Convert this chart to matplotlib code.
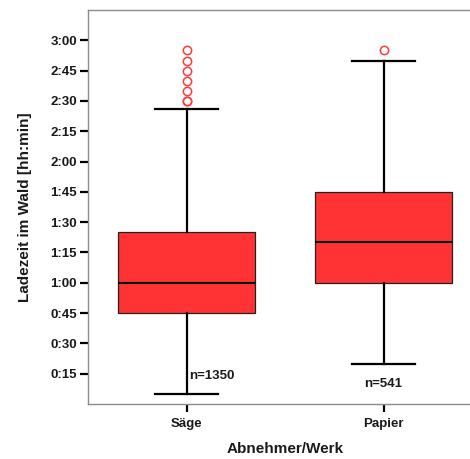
import matplotlib.pyplot as plt

plt.rcParams["font.family"] = ["Liberation Sans", "DejaVu Sans"]
plt.rcParams["font.weight"] = "bold"

# Daten (Minuten)
werke = ["Säge", "Papier"]
n_werte = [1350, 541]
q1 = [45, 60]
median = [60, 80]
q3 = [85, 105]
whisker_unten = [5, 20]
whisker_oben = [146, 170]
ausreisser = [[150, 150, 155, 160, 165, 170, 175], [175]]

yticks = [15, 30, 45, 60, 75, 90, 105, 120, 135, 150, 165, 180]
ytick_labels = ["0:15", "0:30", "0:45", "1:00", "1:15", "1:30",
                "1:45", "2:00", "2:15", "2:30", "2:45", "3:00"]

stats = []
for i, name in enumerate(werke):
    stats.append({
        "label": name,
        "q1": q1[i], "med": median[i], "q3": q3[i],
        "whislo": whisker_unten[i], "whishi": whisker_oben[i],
        "fliers": ausreisser[i],
    })

fig = plt.figure(figsize=(4.70, 4.59), dpi=100)
ax = fig.add_axes([88 / 470, 55 / 459, 394 / 470, 394 / 459])

ax.bxp(
    stats,
    positions=[1, 2],
    widths=0.70,
    capwidths=0.32,
    patch_artist=True,
    boxprops=dict(facecolor="#ff3333", edgecolor="#222222", linewidth=0.9),
    medianprops=dict(color="black", linewidth=1.5),
    whiskerprops=dict(color="black", linewidth=1.6),
    capprops=dict(color="black", linewidth=1.6),
    flierprops=dict(marker="o", markerfacecolor="none", markeredgecolor="#ff3b3b",
                    markersize=6, markeredgewidth=1.1),
)

# Stichprobengrößen
ax.text(1.015, whisker_unten[0] + 6, f"n={n_werte[0]}", ha="left", va="bottom",
        fontsize=9.5, fontweight="bold", color="#1a1a1a")
ax.text(2, whisker_unten[1] - 10, f"n={n_werte[1]}", ha="center", va="center",
        fontsize=9.5, fontweight="bold", color="#1a1a1a")

ax.set_xlim(0.5, 2.5)
ax.set_ylim(0, 195)
ax.set_yticks(yticks)
ax.set_yticklabels(ytick_labels)
ax.set_xticks([1, 2])
ax.set_xticklabels(werke)

ax.tick_params(axis="both", direction="out", length=6, width=1.6, color="black",
               labelsize=9.5, labelcolor="#1a1a1a")
ax.tick_params(axis="y", pad=2)
ax.tick_params(axis="x", pad=4)

for s in ax.spines.values():
    s.set_color("#8c8c8c")
    s.set_linewidth(1.0)
ax.spines["right"].set_visible(False)

ax.set_xlabel("Abnehmer/Werk", fontsize=11, fontweight="bold", color="#1a1a1a", labelpad=9)
ax.set_ylabel("Ladezeit im Wald [hh:min]", fontsize=11, fontweight="bold", color="#1a1a1a",
              labelpad=13)

fig.savefig("out.png", dpi=100)
